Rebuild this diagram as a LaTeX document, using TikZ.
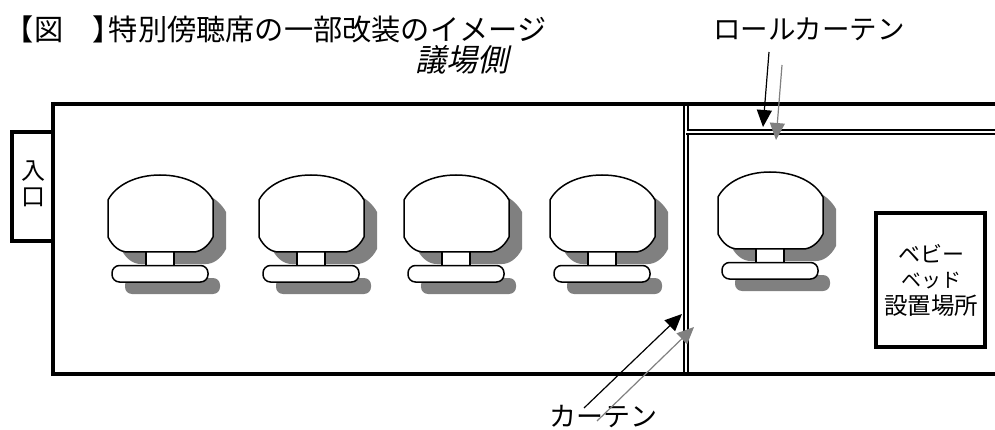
\documentclass[tikz,border=0pt]{standalone}
\usepackage{fontspec}
\usetikzlibrary{arrows.meta}
\setmainfont{Noto Sans CJK JP}
\newfontfamily\jpslant[FakeSlant=0.22]{Noto Sans CJK JP}
\definecolor{shade}{HTML}{808080}
\newcommand{\fs}[1]{\fontsize{#1}{#1}\selectfont}
\tikzset{
  wall/.style={line width=4pt,line cap=butt},
  rail/.style={line width=1.7pt},
  chairline/.style={draw=black,fill=white,line width=1.5pt},
  chairshade/.style={fill=shade,draw=none},
  lbl/.style={inner sep=0pt,outer sep=0pt,text=black},
  blackarrow/.style={draw=black,line width=1.2pt,-{Triangle[length=17pt,width=15pt,fill=black]}},
  grayarrow/.style={draw=shade,line width=1.2pt,-{Triangle[length=17pt,width=15pt,fill=shade]}},
  chair/.pic={
    \path[chairshade,shift={(13,12)}] (0,25) .. controls (8,10) and (28,0) .. (52,0) .. controls (77,0) and (97,10) .. (105,25) -- (105,62) .. controls (100,72) and (92,77) .. (85,77) -- (20,77) .. controls (12,77) and (5,72) .. (0,62) -- cycle;
    \path[chairshade,rounded corners=7pt] (17,103) rectangle (112,119);
    \path[chairline] (38,75) rectangle (66,91);
    \path[chairline] (0,25) .. controls (8,10) and (28,0) .. (52,0) .. controls (77,0) and (97,10) .. (105,25) -- (105,62) .. controls (100,72) and (92,77) .. (85,77) -- (20,77) .. controls (12,77) and (5,72) .. (0,62) -- cycle;
    \path[chairline,rounded corners=7.5pt] (4,90.5) rectangle (100,107);
  }
}
\begin{document}
\begin{tikzpicture}[x=1pt,y=-1pt]
\useasboundingbox (0,0) rectangle (995,430);
% room
\draw[wall] (12,132) rectangle (53,241);
\fill[white] (14,134) rectangle (50.9,239);
\draw[wall] (995,104) -- (51,104);
\draw[wall] (995,374) -- (51,374);
\draw[wall] (53,102) -- (53,376);
% curtains
\draw[rail] (684.2,106) -- (684.2,372);
\draw[rail] (688.2,106) -- (688.2,130);
\draw[rail] (688.2,134) -- (688.2,372);
\draw[rail] (687.4,130) -- (995,130);
\draw[rail] (686,134) -- (995,134);
% chairs
\pic at (108,175) {chair};
\pic at (259,175) {chair};
\pic at (404,175) {chair};
\pic at (550,175) {chair};
\pic at (718,172) {chair};
% baby box
\node[draw=black,line width=4pt,outer sep=0pt,minimum width=109pt,minimum height=134pt,inner sep=0pt,anchor=north west] (baby) at (876,213) {};
\node[lbl] (b1) at (931,254) {\fs{22}ベビー};
\node[lbl] (b2) at (931,281) {\fs{20}ベッド};
\node[lbl] (b3) at (931,306) {\fs{23.5}設置場所};
% entrance
\node[lbl] (ent1) at (33,171) {\fs{24}入};
\node[lbl] (ent2) at (33,197) {\fs{24}口};
% labels
\node[lbl,anchor=west] (title) at (5,29) {\fs{29.2}【図　】\hspace{-13pt}特別傍聴席の一部改装のイメージ};
\node[lbl,anchor=west] (side) at (415,60) {\jpslant\fs{31}議場側};
\node[lbl] (roll) at (809,29) {\fs{27.5}ロールカーテン};
\node[lbl] (curt) at (603.5,417) {\fs{27}カーテン};
% arrows
\coordinate (r1s) at (769,52);
\coordinate (r1e) at (763,127);
\coordinate (r2s) at (782,65);
\coordinate (r2e) at (776,140);
\coordinate (c1s) at (584,408);
\coordinate (c1e) at (682,314);
\coordinate (c2s) at (597,421);
\coordinate (c2e) at (694,327);
\draw[blackarrow] (r1s) -- (r1e);
\draw[grayarrow] (r2s) -- (r2e);
\draw[blackarrow] (c1s) -- (c1e);
\draw[grayarrow] (c2s) -- (c2e);
\end{tikzpicture}
\end{document}
